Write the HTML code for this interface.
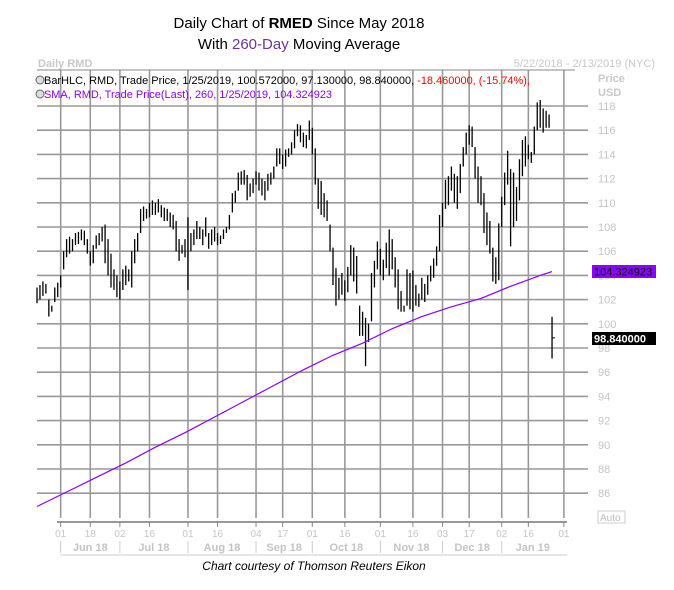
<!DOCTYPE html>
<html><head><meta charset="utf-8"><style>
body{margin:0;background:#fff;}
svg{display:block;font-family:"Liberation Sans",sans-serif;}
</style></head><body>
<svg id="chart" width="674" height="590" viewBox="0 0 674 590" xmlns="http://www.w3.org/2000/svg">
<g>
<text x="299" y="28" text-anchor="middle" font-size="15" fill="#000">Daily Chart of <tspan font-weight="bold">RMED</tspan> Since May 2018</text>
<text x="299" y="49" text-anchor="middle" font-size="15" fill="#000">With <tspan fill="#7030a0">260-Day</tspan> Moving Average</text>
</g>
<text x="38" y="67" font-size="11" font-weight="bold" fill="#c8c8c8">Daily RMD</text>
<text x="655" y="67" text-anchor="end" font-size="11" fill="#c8c8c8">5/22/2018 - 2/13/2019 (NYC)</text>
<g id="grid"></g>
<line x1="37" y1="70" x2="575" y2="70" stroke="#888" stroke-width="1"/>
<g>
<circle cx="40" cy="80" r="4" fill="#ddd" stroke="#666"/>
<text x="44" y="84" font-size="11" fill="#000" textLength="486" lengthAdjust="spacingAndGlyphs">BarHLC, RMD, Trade Price, 1/25/2019, 100.572000, 97.130000, 98.840000, <tspan fill="#ff0000">-18.460000, (-15.74%),</tspan></text>
<circle cx="40" cy="94" r="4" fill="#ddd" stroke="#666"/>
<text x="44" y="98" font-size="11" fill="#8b00ff" textLength="288" lengthAdjust="spacingAndGlyphs">SMA, RMD, Trade Price(Last), 260, 1/25/2019, 104.324923</text>
</g>
<text x="598" y="82" font-size="11" font-weight="bold" fill="#c8c8c8">Price</text>
<text x="598" y="96" font-size="11" font-weight="bold" fill="#c8c8c8">USD</text>
<g id="yaxis"></g>
<g id="xaxis"></g>
<g id="bars"></g>
<polyline id="sma" fill="none" stroke="#8b00ff" stroke-width="1.2"/>
<g>
<rect x="592" y="265" width="64" height="13" fill="#8b00ff"/>
<text x="594" y="275.5" font-size="11" fill="#000">104.324923</text>
</g>
<g>
<rect x="592" y="332" width="64" height="13" fill="#000"/>
<text x="594" y="342.5" font-size="11" font-weight="bold" fill="#fff">98.840000</text>
</g>
<g>
<rect x="598" y="511" width="27" height="12" fill="#fff" stroke="#ccc"/>
<text x="600" y="521" font-size="10" fill="#bbb">Auto</text>
</g>
<text x="314" y="570" text-anchor="middle" font-size="12" font-style="italic" fill="#000">Chart courtesy of Thomson Reuters Eikon</text>
</svg>
<script>
const yTicks=[86,88,90,92,94,96,98,100,102,104,106,108,110,112,114,116,118];
const xTickLabels=["01","18","02","16","01","16","04","17","01","16","01","16","03","17","02","16","01"];
const xTickBars=[8,18,28,38,51,61,74,83,93,104,116,127,137,146,157,166,178];
const months=["Jun 18","Jul 18","Aug 18","Sep 18","Oct 18","Nov 18","Dec 18","Jan 19"];
const monthStartBars=[8,28,51,74,93,116,137,157,178];
const highs=[103,103.2,103.5,103.3,102,101.5,103,103.4,104,106,
107,107.2,107,107.5,107.6,107.8,107.7,107,106,106.5,
107.3,107.5,108,108.2,107,105.8,104.5,104,103.5,104.5,
104.8,104.5,106,107,107.5,109.5,109.7,109.5,110,110.2,
110,110.3,109.8,109.6,109.5,109.2,109,108.5,107,106.5,
107,108.8,107.5,107.8,108.5,108,107.8,108.8,107.5,107.8,
108,107.5,107.3,107.8,108,109,110.8,111,112.5,112.6,
112.7,112.3,111.6,112,112.6,112.5,112,111.8,112.4,112.5,
113,114.5,114.5,114,114.4,114.5,115,116,116.5,116.4,
115.8,115.6,116.8,116.2,114.5,112,111.8,110.8,110.2,108.2,
106.3,104.6,103.8,104.2,103.6,104.7,106.5,106.3,105.6,101.5,
101,100.5,100,104.2,105.2,106.8,106.2,105.3,106.7,107.8,
107,105.5,104.5,102.7,101.5,104.5,104.2,104.4,103.2,102.5,
103.8,103.3,104,104.8,105.4,106.4,109,110,111.9,112.2,
113,112.4,112.2,113.2,114.6,115.8,116.4,116.3,114.6,113,
112.2,110.8,109.2,108.5,106.3,105.5,108.3,110.5,112.5,114.3,
112.8,112.5,111.3,113.6,115.2,115.5,114.8,114.2,116.3,118.3,
118.5,117.8,117.6,117.3,100.572];
const lows=[101.7,102,102.3,102.5,100.6,101,101.8,102.2,103,104.5,
105.5,105.8,106,106.5,106.6,106.9,106.5,105.8,104.8,105,
106.2,106.5,106.8,105,104,103,102.8,102.2,102,102.8,
103.2,103.5,103,105,106,107.5,108.5,108.7,108.8,109,
109,109.2,108.8,108.5,108.5,108,107.8,106,105.2,105.8,
105.5,102.8,106,106.5,107,107,106.5,107.2,106.2,106.5,
106.8,106.5,106.6,107,107.5,107.8,109.2,110,111,111.5,
111.5,110.2,110.5,110.8,111.5,111,110.6,110.2,111,111.5,
112,113,113.2,112.8,113,113.8,114,114.5,115.5,115,
114.6,114.5,115.2,114,111.5,109.5,109,108.8,108.5,106,
103.2,101.5,102,102.4,101.9,102.6,104,103.5,102.5,99,
99,96.5,98.5,100.2,103,104.5,104,103.6,104.6,104,
104.5,103,101.2,101,101,101.5,101.2,101,101.5,101.4,
102,101.8,102.4,103.5,103.8,104.8,106,108,109.5,109.8,
111,110,109.5,110.8,113,114,114.8,114.6,112,110,
109.8,107.5,106.5,105.8,103.5,103.3,103.6,108,109.8,111.5,
106.4,108,108.5,110.2,112.2,113,113.6,113.3,114,116,
116.2,115.8,116.2,116.2,97.13];
const lastClose=98.84;
const smaBars=[0,10,20,30,40,50,60,70,80,90,100,110,120,130,140,150,160,170,174];
const smaValues=[84.9,86.1,87.3,88.5,89.8,91.0,92.3,93.6,94.9,96.2,97.4,98.4,99.6,100.6,101.4,102.1,103.1,104.0,104.32];

const NS="http://www.w3.org/2000/svg";
const X0=37, STEP=2.96;
const xS=i=>X0+i*STEP;
const yS=v=>106+(118-v)*12.1;
function mk(tag,attrs,parent){const e=document.createElementNS(NS,tag);for(const k in attrs)e.setAttribute(k,attrs[k]);parent.appendChild(e);return e;}
const grid=document.getElementById('grid'),ya=document.getElementById('yaxis'),xa=document.getElementById('xaxis'),bars=document.getElementById('bars');
yTicks.forEach(v=>{
  const l=mk('line',{x1:37,x2:588,y1:yS(v),y2:yS(v),stroke:'#999','stroke-width':1.6},grid);
  
  
  const t=mk('text',{x:598,y:yS(v)+4,'font-size':11,fill:'#c4c4c4'},ya);
  t.textContent=v;
  
  
});
xTickBars.forEach((b,i)=>{
  const x=xS(b);
  const l=mk('line',{x1:x,x2:x,y1:70,y2:518,stroke:'#999','stroke-width':1.6},grid);
  
  
  mk('line',{x1:x,x2:x,y1:522,y2:527,stroke:'#888'},xa);
  const t=mk('text',{x:x,y:537,'text-anchor':'middle','font-size':10,fill:'#c4c4c4'},xa);
  t.textContent=xTickLabels[i];
  
  
});
mk('line',{x1:57,x2:567,y1:522,y2:522,stroke:'#777','stroke-width':1.5},xa);
mk('line',{x1:60,x2:567,y1:555,y2:555,stroke:'#ccc'},xa);
months.forEach((m,i)=>{
  const a=xS(monthStartBars[i]),b=xS(monthStartBars[i+1]);
  mk('line',{x1:a,x2:a,y1:541,y2:553,stroke:'#ccc'},xa);
  const t=mk('text',{x:(a+b)/2,y:551,'text-anchor':'middle','font-size':11,'font-weight':'bold',fill:'#c4c4c4'},xa);
  t.textContent=m;
  
  
});
highs.forEach((h,i)=>{
  const x=xS(i);
  const l=mk('line',{x1:x,x2:x,y1:yS(h),y2:yS(lows[i]),stroke:'#000','stroke-width':1.3},bars);
  
  
});
const li=highs.length-1;
mk('line',{x1:xS(li),x2:xS(li)+3,y1:yS(lastClose),y2:yS(lastClose),stroke:'#000'},bars);
document.getElementById('sma').setAttribute('points',smaBars.map((b,i)=>xS(b)+','+yS(smaValues[i])).join(' '));
</script>
</body></html>
